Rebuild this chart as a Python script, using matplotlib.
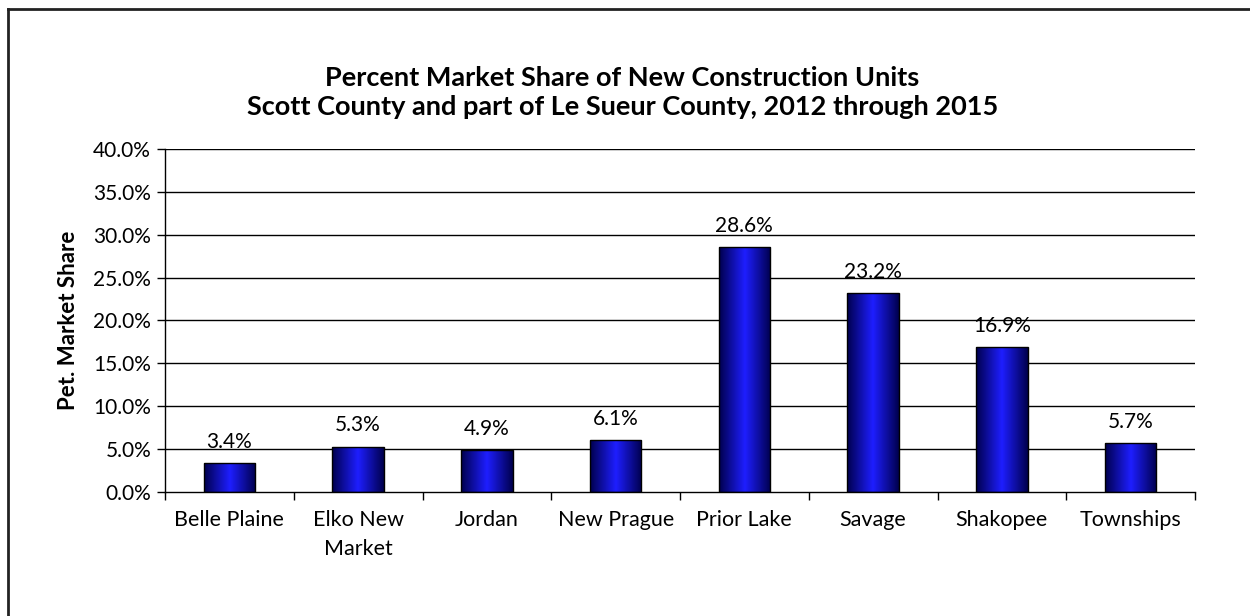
import matplotlib.pyplot as plt
import numpy as np
from matplotlib.colors import LinearSegmentedColormap
from matplotlib.ticker import FuncFormatter

places = ['Belle Plaine', 'Elko New\nMarket', 'Jordan', 'New Prague', 'Prior Lake',
          'Savage', 'Shakopee', 'Townships']
share = [3.4, 5.3, 4.9, 6.1, 28.6, 23.2, 16.9, 5.7]

plt.rcParams['font.family'] = ['Lato', 'DejaVu Sans']

fig = plt.figure(figsize=(12.5, 6.16), dpi=100)
ax = fig.add_axes([0.132, 0.2013, 0.824, 0.557])

x = np.arange(len(places))
ax.set_xlim(-0.5, len(places) - 0.5)
ax.set_ylim(0, 40)

for y in np.arange(5, 45, 5):
    ax.axhline(y, color='black', lw=1, zorder=1)

# horizontal shading: dark edges, bright blue centre
shade = LinearSegmentedColormap.from_list('shade', ['#00004d', '#1e1eff', '#00004d'])
grad = np.linspace(0, 1, 256).reshape(1, -1)
bars = ax.bar(x, share, width=0.4, facecolor='none', edgecolor='black', lw=1, zorder=3)
for b in bars:
    bx, by = b.get_x(), b.get_y()
    im = ax.imshow(grad, cmap=shade, aspect='auto', zorder=2,
                   extent=(bx, bx + b.get_width(), by, by + b.get_height()))
    im.set_clip_path(b)
    ax.text(b.get_x() + b.get_width() / 2, b.get_height() + 1.3, f'{b.get_height():.1f}%',
            ha='center', va='bottom', fontsize=15)

ax.set_xlim(-0.5, len(places) - 0.5)
ax.set_ylim(0, 40)
ax.set_yticks(np.arange(0, 45, 5))
ax.yaxis.set_major_formatter(FuncFormatter(lambda v, p: f'{v:.1f}%'))
ax.set_xticks(x)
ax.set_xticklabels(places, fontsize=15.5, linespacing=1.55)
ax.set_xticks(np.arange(-0.5, len(places), 1), minor=True)
ax.tick_params(axis='x', which='major', length=0, pad=13)
ax.tick_params(axis='x', which='minor', length=6, width=1, direction='out')
ax.tick_params(axis='y', labelsize=15, length=6, width=1, direction='out', pad=4)
for s in ['top', 'right']:
    ax.spines[s].set_visible(False)
ax.spines['left'].set_linewidth(1)
ax.spines['bottom'].set_linewidth(1)
ax.set_ylabel('Pet. Market Share', fontsize=16, fontweight='bold', labelpad=10)

fig.text(0.498, 0.873, 'Percent Market Share of New Construction Units',
         ha='center', va='center', fontsize=19.5, fontweight='bold')
fig.text(0.498, 0.826, 'Scott County and part of Le Sueur County, 2012 through 2015',
         ha='center', va='center', fontsize=19.5, fontweight='bold')

# chart frame edges
fig.add_artist(plt.Line2D([0.006, 1], [0.986, 0.986], color='#222222', lw=2))
fig.add_artist(plt.Line2D([0.006, 0.006], [0, 0.986], color='#222222', lw=2))

fig.savefig('out.png', dpi=100)
